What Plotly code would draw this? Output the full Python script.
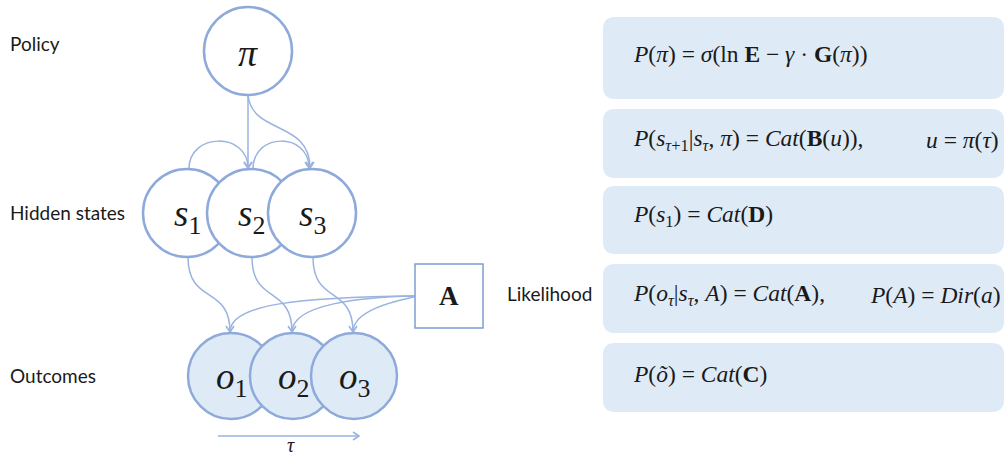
import plotly.graph_objects as go

# ---- diagram data (pixel coordinates of the reference layout) ----
pi_node = (248, 51)
s_x = [187, 251, 312]
s_y = 213
o_x = [231, 293, 354]
o_y = 376
node_r = 44
s_labels = ["<i>s</i><sub>1</sub>", "<i>s</i><sub>2</sub>", "<i>s</i><sub>3</sub>"]
o_labels = ["<i>o</i><sub>1</sub>", "<i>o</i><sub>2</sub>", "<i>o</i><sub>3</sub>"]
a_box = (415, 264, 483, 328)
tau_arrow = (218, 359, 436)

row_labels = ["Policy", "Hidden states", "Outcomes"]
row_label_y = [43, 212, 375]

panel_top = [17, 109, 186, 264, 343]
panel_bottom = [99, 178, 254, 333, 412]
formulas = [
    "<i>P</i>(<i>π</i>) = <i>σ</i>(ln <b>E</b> − <i>γ</i> · <b>G</b>(<i>π</i>))",
    "<i>P</i>(<i>s</i><sub><i>τ</i>+1</sub>|<i>s</i><sub><i>τ</i></sub>, <i>π</i>) = <i>Cat</i>(<b>B</b>(<i>u</i>)),",
    "<i>P</i>(<i>s</i><sub>1</sub>) = <i>Cat</i>(<b>D</b>)",
    "<i>P</i>(<i>o</i><sub><i>τ</i></sub>|<i>s</i><sub><i>τ</i></sub>, <i>A</i>) = <i>Cat</i>(<b>A</b>),",
    "<i>P</i>(<i>õ</i>) = <i>Cat</i>(<b>C</b>)",
]
extra_formulas = {1: ("<i>u</i> = <i>π</i>(<i>τ</i>)", 924), 3: ("<i>P</i>(<i>A</i>) = <i>Dir</i>(<i>a</i>)", 868)}

W, H = 1005, 456
stroke = "#8eaadb"
edge = "#9ab3e0"
fill_o = "#deebf7"
panel_fill = "#deebf7"
txt = "#1a1a1a"
serif = "Liberation Serif"

fig = go.Figure()
shapes = []
ann = []

def rrect(x0, y0, x1, y1, r):
    return (f"M {x0+r},{y0} L {x1-r},{y0} Q {x1},{y0} {x1},{y0+r} L {x1},{y1-r} "
            f"Q {x1},{y1} {x1-r},{y1} L {x0+r},{y1} Q {x0},{y1} {x0},{y1-r} "
            f"L {x0},{y0+r} Q {x0},{y0} {x0+r},{y0} Z")

# panels
for t, b in zip(panel_top, panel_bottom):
    shapes.append(dict(type="path", path=rrect(603, t, 1004, b, 12), fillcolor=panel_fill,
                       line=dict(width=0), layer="below"))

def curve(p0, c1, c2, p1):
    return dict(type="path", path=f"M {p0[0]},{p0[1]} C {c1[0]},{c1[1]} {c2[0]},{c2[1]} {p1[0]},{p1[1]}",
                line=dict(color=edge, width=1.5), layer="below")

def head(x, y):
    shapes.append(dict(type="path", path=f"M {x-4},{y-6} L {x},{y} L {x+4},{y-6}",
                       line=dict(color=edge, width=1.6), layer="below"))

px, py = pi_node
s_top = s_y - node_r
s_bot = s_y + node_r
o_top = o_y - 43
# pi -> s2 (straight), pi -> s3 (curve)
shapes.append(dict(type="line", x0=px, y0=py + node_r, x1=px, y1=s_top - 1,
                   line=dict(color=edge, width=1.5), layer="below"))
head(px, s_top - 1)
shapes.append(curve((px, py + node_r), (px + 4, py + 84), (s_x[2] - 2, py + 69), (s_x[2] - 2, s_top - 1)))
head(s_x[2] - 2, s_top - 1)
# s_i -> s_{i+1} arcs
for i in range(2):
    x0 = s_x[i] + 2
    x1 = s_x[i + 1] - 3
    shapes.append(curve((x0, s_top), (x0, s_top - 37), (x1, s_top - 37), (x1, s_top - 1)))
    head(x1, s_top - 1)
# s_i -> o_i and A -> o_i
ax0, ay0, ax1, ay1 = a_box
amid = (ay0 + ay1) / 2
for i in range(3):
    x0 = s_x[i] + 1
    x1 = o_x[i] - 1
    ym = (s_bot + o_top) / 2
    shapes.append(curve((x0, s_bot), (x0, ym + 10), (x1, ym - 10), (x1, o_top - 1)))
    shapes.append(curve((ax0, amid), (x1 + 70, amid + 1), (x1, amid + 8), (x1, o_top - 1)))
    head(x1, o_top - 1)

# circles
shapes.append(dict(type="circle", x0=px - node_r, x1=px + node_r, y0=py - node_r, y1=py + node_r,
                   fillcolor="white", line=dict(color=stroke, width=2.5)))
for x in s_x:
    shapes.append(dict(type="circle", x0=x - node_r, x1=x + node_r, y0=s_y - node_r, y1=s_y + node_r,
                       fillcolor="white", line=dict(color=stroke, width=2.5)))
for x in o_x:
    shapes.append(dict(type="circle", x0=x - 43, x1=x + 43, y0=o_y - 43, y1=o_y + 43,
                       fillcolor=fill_o, line=dict(color=stroke, width=2.5)))
# A box
shapes.append(dict(type="rect", x0=ax0, x1=ax1, y0=ay0, y1=ay1, fillcolor="white",
                   line=dict(color="#7f9fd0", width=1.5)))

# tau arrow
tx0, tx1, ty = tau_arrow
shapes.append(dict(type="line", x0=tx0, x1=tx1, y0=ty, y1=ty, line=dict(color=edge, width=1.5)))
shapes.append(dict(type="path", path=f"M {tx1-6},{ty-4} L {tx1},{ty} L {tx1-6},{ty+4}",
                   line=dict(color=edge, width=1.6)))
ann.append(dict(x=(tx0 + tx1) / 2 + 2, y=ty + 9, text="<i>τ</i>", showarrow=False,
                font=dict(family=serif, size=20, color=txt)))

# node labels
ann.append(dict(x=px, y=py + 2, text="<i>π</i>", showarrow=False, font=dict(family=serif, size=38, color=txt)))
for x, lab in zip(s_x, s_labels):
    ann.append(dict(x=x, y=s_y + 3, text=lab, showarrow=False, font=dict(family=serif, size=37, color=txt)))
for x, lab in zip(o_x, o_labels):
    ann.append(dict(x=x, y=o_y + 3, text=lab, showarrow=False, font=dict(family=serif, size=37, color=txt)))
ann.append(dict(x=(ax0 + ax1) / 2, y=amid, text="<b>A</b>", showarrow=False,
                font=dict(family=serif, size=27, color=txt)))

# row labels
for lab, y in zip(row_labels, row_label_y):
    ann.append(dict(x=8, y=y, text=lab, xanchor="left", showarrow=False,
                    font=dict(family="Lato", size=19, color=txt)))
ann.append(dict(x=505, y=293, text="Likelihood", xanchor="left", showarrow=False,
                font=dict(family="Lato", size=19, color=txt)))

# formulas
for i, (f, t, b) in enumerate(zip(formulas, panel_top, panel_bottom)):
    yc = (t + b) / 2 - 4
    ann.append(dict(x=631, y=yc, text=f, xanchor="left", showarrow=False,
                    font=dict(family=serif, size=23.5, color=txt)))
    if i in extra_formulas:
        et, ex = extra_formulas[i]
        ann.append(dict(x=ex, y=yc, text=et, xanchor="left", showarrow=False,
                        font=dict(family=serif, size=23.5, color=txt)))

fig.update_layout(width=W, height=H, margin=dict(l=0, r=0, t=0, b=0),
                  plot_bgcolor="white", paper_bgcolor="white",
                  xaxis=dict(range=[0, W], visible=False, fixedrange=True),
                  yaxis=dict(range=[H, 0], visible=False, fixedrange=True),
                  shapes=shapes, annotations=ann, showlegend=False)
fig.write_html("out.html", config={"displayModeBar": False},
               post_script="document.body.style.margin='0';document.body.style.overflow='hidden';")
